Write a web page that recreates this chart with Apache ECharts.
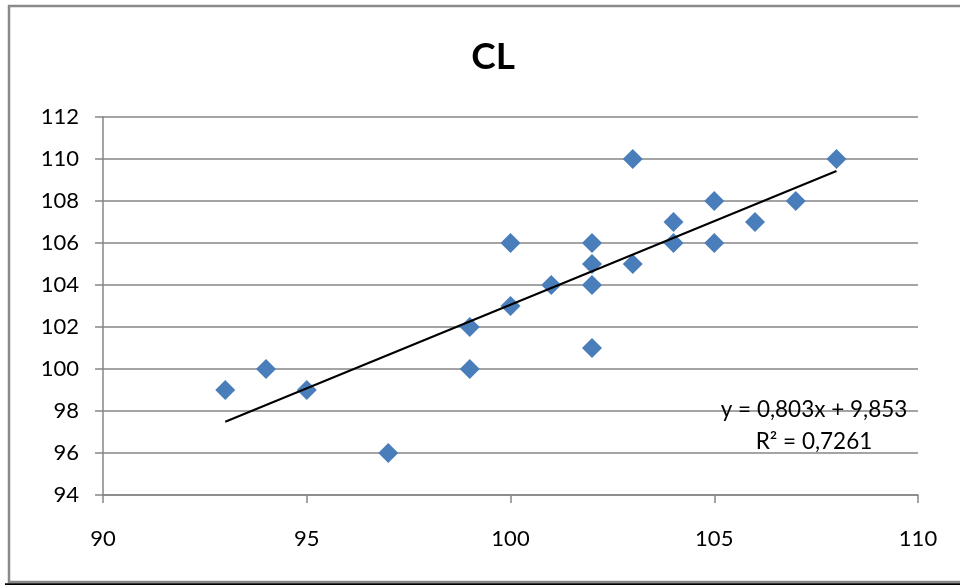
<!DOCTYPE html>
<html>
<head>
<meta charset="utf-8">
<title>CL</title>
<script src="https://cdn.jsdelivr.net/npm/echarts@6/dist/echarts.min.js"></script>
<style>
  html, body { margin: 0; padding: 0; background: #fff; }
  #chart { width: 960px; height: 585px; }
</style>
</head>
<body>
<div id="chart"></div>
<script>
// Paired observations (x, y)
const xValues = [93, 94, 95, 97, 99, 99, 100, 100, 101, 102, 102, 102, 102, 103, 103, 104, 104, 105, 105, 106, 107, 108];
const yValues = [99, 100, 99, 96, 102, 100, 106, 103, 104, 106, 105, 104, 101, 110, 105, 107, 106, 108, 106, 107, 108, 110];

// Axis ranges and tick steps
const xAxisRange = [90, 110];
const xTickStep = 5;
const yAxisRange = [94, 112];
const yTickStep = 2;

// Trendline annotation text
const trendEquation = 'y = 0,803x + 9,853';
const trendR2 = 'R² = 0,7261';

const points = xValues.map((x, i) => [x, yValues[i]]);

// Least-squares linear fit for the trendline
const n = xValues.length;
const mx = xValues.reduce((a, b) => a + b, 0) / n;
const my = yValues.reduce((a, b) => a + b, 0) / n;
let sxy = 0, sxx = 0;
for (let i = 0; i < n; i++) {
  sxy += (xValues[i] - mx) * (yValues[i] - my);
  sxx += (xValues[i] - mx) * (xValues[i] - mx);
}
const slope = sxy / sxx;
const intercept = my - slope * mx;
const xMin = Math.min(...xValues);
const xMax = Math.max(...xValues);
const trendLine = [[xMin, slope * xMin + intercept], [xMax, slope * xMax + intercept]];

const FONT = 'Lato';
const chart = echarts.init(document.getElementById('chart'));
chart.setOption({
  animation: false,
  backgroundColor: '#ffffff',
  title: {
    text: 'CL',
    left: 488,
    top: 34,
    textAlign: 'center',
    textStyle: { fontFamily: FONT, fontWeight: 'bold', fontSize: 37, color: '#000' }
  },
  grid: { left: 103, right: 42, top: 117, bottom: 90 },
  xAxis: {
    type: 'value',
    min: xAxisRange[0],
    max: xAxisRange[1],
    interval: xTickStep,
    axisLine: { show: true, onZero: false, lineStyle: { color: '#868686', width: 1.5 } },
    axisTick: { show: true, length: 8, lineStyle: { color: '#868686', width: 1.5 } },
    axisLabel: { margin: 33, fontFamily: FONT, fontSize: 22, color: '#000' },
    splitLine: { show: false }
  },
  yAxis: {
    type: 'value',
    min: yAxisRange[0],
    max: yAxisRange[1],
    interval: yTickStep,
    axisLine: { show: true, onZero: false, lineStyle: { color: '#868686', width: 1.5 } },
    axisTick: { show: true, length: 8, lineStyle: { color: '#868686', width: 1.5 } },
    axisLabel: { margin: 24, fontFamily: FONT, fontSize: 22, color: '#000' },
    splitLine: { show: true, lineStyle: { color: '#868686', width: 1.5 } }
  },
  series: [
    {
      type: 'scatter',
      data: points,
      symbol: 'diamond',
      symbolSize: 20,
      itemStyle: { color: '#4A7EBB', opacity: 1 },
      z: 3
    },
    {
      type: 'line',
      data: trendLine,
      symbol: 'none',
      lineStyle: { color: '#000', width: 2 },
      z: 4
    }
  ],
  graphic: [
    {
      type: 'text',
      x: 814,
      y: 410,
      style: {
        text: trendEquation,
        fill: '#000',
        font: '22.5px "' + FONT + '"',
        align: 'center',
        verticalAlign: 'middle'
      },
      z: 10
    },
    {
      type: 'text',
      x: 814,
      y: 442,
      style: {
        text: trendR2,
        fill: '#000',
        font: '22.5px "' + FONT + '"',
        align: 'center',
        verticalAlign: 'middle'
      },
      z: 10
    },
    {
      type: 'rect',
      shape: { x: 9, y: 6, width: 1000, height: 576 },
      style: { fill: 'none', stroke: '#8a8a8a', lineWidth: 2.5 },
      silent: true,
      z: 20
    },
    {
      type: 'line',
      shape: { x1: 5, y1: 584.5, x2: 960, y2: 584.5 },
      style: { stroke: '#000', lineWidth: 2.5 },
      silent: true,
      z: 21
    }
  ]
});
</script>
</body>
</html>
